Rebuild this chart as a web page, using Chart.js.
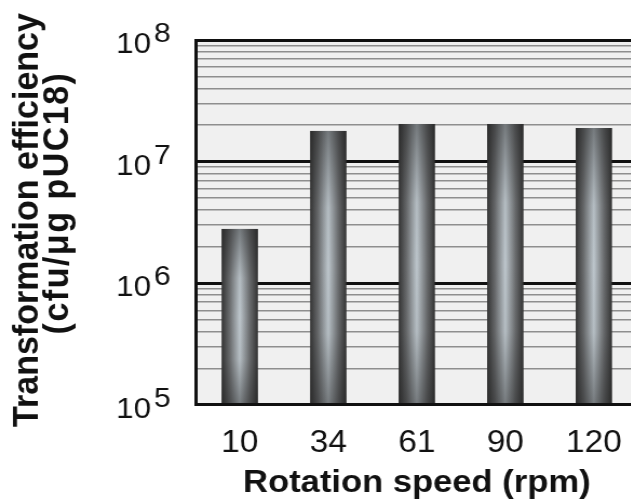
<!DOCTYPE html>
<html lang="en">
<head>
  <meta charset="UTF-8">
  <title>Transformation efficiency vs rotation speed</title>
  <style>
    html, body {
      margin: 0;
      padding: 0;
      background: #fff;
      overflow: hidden;
    }
    /* the original figure is a little wider than tall in its lettering, so stretch the whole canvas */
    .stretch {
      width: 596px;
      height: 501px;
      transform: scaleX(1.08);
      transform-origin: 0 0;
    }
  </style>
  <script src="https://cdn.jsdelivr.net/npm/chart.js"></script>
</head>
<body>
  <div class="stretch">
    <canvas id="chart" width="596" height="501"></canvas>
  </div>
  <script>
    // data
    const speeds = ['10', '34', '61', '90', '120'];
    const efficiency = [2.8e6, 1.79e7, 2.04e7, 2.04e7, 1.89e7];

    // log axis: decades get labels and heavy lines, steps 2..9 get thin lines
    const decades = [5, 6, 7, 8];
    const minorSteps = [2, 3, 4, 5, 6, 7, 8, 9];
    const yTitleLines = ['Transformation efficiency', '(cfu/\u03bcg pUC18)'];
    const xTitle = 'Rotation speed (rpm)';

    const FONT = "'Liberation Sans', Arial, Helvetica, sans-serif";
    const INK = '#111';
    const barPct = 0.41;

    const yGrid = [];
    decades.forEach((e, i) => {
      yGrid.push(10 ** e);
      if (i < decades.length - 1) minorSteps.forEach(m => yGrid.push(m * 10 ** e));
    });
    const isDecade = v => decades.some(e => v === 10 ** e);

    // cylinder look: dark edges, pale bluish middle
    function barFill(ctx) {
      const chart = ctx.chart;
      const x = chart.scales.x;
      if (!x || !chart.chartArea) return '#777';
      const cx = x.getPixelForValue(ctx.dataIndex);
      const half = x.width / speeds.length * barPct / 2;
      const g = chart.ctx.createLinearGradient(cx - half, 0, cx + half, 0);
      g.addColorStop(0, '#333333');
      g.addColorStop(0.22, '#6a6c6e');
      g.addColorStop(0.5, '#bec7cd');
      g.addColorStop(0.78, '#6a6c6e');
      g.addColorStop(1, '#333333');
      return g;
    }

    const plotBg = {
      id: 'plotBg',
      beforeDraw(chart) {
        const {left, top, width, height} = chart.chartArea;
        const c = chart.ctx;
        c.save();
        c.fillStyle = '#f0f0f0';
        c.fillRect(left, top, width, height);
        c.restore();
      }
    };

    // darken top and bottom of each bar
    const barShade = {
      id: 'barShade',
      afterDatasetsDraw(chart) {
        const c = chart.ctx;
        chart.getDatasetMeta(0).data.forEach(bar => {
          const {x, y, base, width} = bar.getProps(['x', 'y', 'base', 'width'], true);
          const g = c.createLinearGradient(0, y, 0, base);
          g.addColorStop(0, 'rgba(30,30,30,0.45)');
          g.addColorStop(0.28, 'rgba(30,30,30,0.05)');
          g.addColorStop(0.5, 'rgba(30,30,30,0)');
          g.addColorStop(0.74, 'rgba(30,30,30,0.05)');
          g.addColorStop(1, 'rgba(30,30,30,0.45)');
          c.save();
          c.fillStyle = g;
          c.fillRect(x - width / 2, y, width, base - y);
          c.restore();
        });
      }
    };

    // 10^n labels and the two line y title
    const yLabels = {
      id: 'yLabels',
      afterDraw(chart) {
        const c = chart.ctx;
        const y = chart.scales.y;
        const left = chart.chartArea.left;
        c.save();
        c.fillStyle = INK;
        c.textAlign = 'left';
        c.textBaseline = 'alphabetic';
        decades.forEach(e => {
          const py = y.getPixelForValue(10 ** e);
          c.font = '29px ' + FONT;
          c.fillText('10', left - 73.5, py + 13);
          c.font = '28px ' + FONT;
          c.fillText(String(e), left - 38.5, py + 2);
        });

        c.font = 'bold 34px ' + FONT;
        c.textAlign = 'center';
        c.save();
        c.translate(35, 220);
        c.rotate(-Math.PI / 2);
        c.fillText(yTitleLines[0], 0, 0);
        c.restore();
        c.save();
        c.letterSpacing = '1.5px';
        c.translate(63, 203);
        c.rotate(-Math.PI / 2);
        c.fillText(yTitleLines[1], 0, 0);
        c.restore();
        c.restore();
      }
    };

    new Chart(document.getElementById('chart'), {
      type: 'bar',
      data: {
        labels: speeds,
        datasets: [{
          data: efficiency,
          backgroundColor: barFill,
          borderWidth: 0,
          barPercentage: barPct,
          categoryPercentage: 1
        }]
      },
      options: {
        responsive: false,
        animation: false,
        layout: { padding: { left: 181, right: 3, top: 40, bottom: 1.5 } },
        plugins: {
          legend: { display: false },
          tooltip: { enabled: false }
        },
        scales: {
          x: {
            grid: { display: false, drawTicks: false },
            border: { display: true, color: INK, width: 3, z: 1 },
            ticks: {
              color: INK,
              font: { family: FONT, size: 31 },
              padding: 20,
              maxRotation: 0,
              autoSkip: false
            },
            title: {
              display: true,
              text: xTitle,
              color: INK,
              font: { family: FONT, size: 32, weight: 'bold' },
              padding: { top: -18, bottom: -3 }
            }
          },
          y: {
            type: 'logarithmic',
            min: 1e5,
            max: 1e8,
            afterBuildTicks: scale => {
              scale.ticks = yGrid.map(v => ({ value: v }));
            },
            ticks: { display: false },
            grid: {
              drawTicks: false,
              color: c => isDecade(c.tick.value) ? INK : '#8e8e8e',
              lineWidth: c => isDecade(c.tick.value) ? 3 : 1.5
            },
            border: { color: INK, width: 3, z: 1 }
          }
        }
      },
      plugins: [plotBg, barShade, yLabels]
    });
  </script>
</body>
</html>
